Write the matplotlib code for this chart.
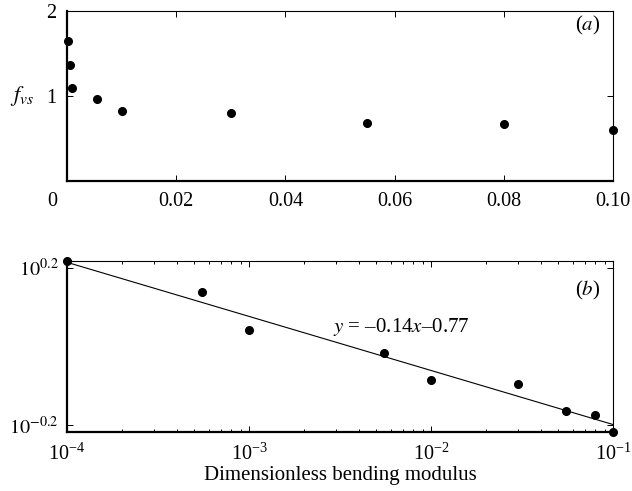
import numpy as np
import matplotlib
matplotlib.use("Agg")
import matplotlib.pyplot as plt
from matplotlib.ticker import NullLocator, LogLocator, FixedLocator, FixedFormatter
from matplotlib.transforms import offset_copy

plt.rcParams['font.family'] = ['Liberation Serif', 'DejaVu Serif']
plt.rcParams['mathtext.fontset'] = 'stix'
plt.rcParams['font.size'] = 14

# bending modulus and vortex shedding frequency
modulus = [0.0001, 0.00055, 0.001, 0.0055, 0.01, 0.03, 0.055, 0.08, 0.1]
f_vs = [1.645, 1.372, 1.098, 0.962, 0.824, 0.801, 0.686, 0.670, 0.606]

xticks_a = [0, 0.02, 0.04, 0.06, 0.08, 0.10]
xticklabels_a = ["0", "0.02", "0.04", "0.06", "0.08", "0.10"]
yticks_b = [10 ** 0.2, 10 ** -0.2]
yticklabels_b = [r"$10^{0.2}$", r"$10^{-0.2}$"]

fig = plt.figure(figsize=(6.32, 4.91), dpi=100)
ax1 = fig.add_axes([0.106, 0.631, 0.864, 0.346])
ax2 = fig.add_axes([0.106, 0.120, 0.864, 0.348])


def style(ax, ypad):
    for s in ["left", "bottom"]:
        ax.spines[s].set_linewidth(1.6)
    for s in ["top", "right"]:
        ax.spines[s].set_linewidth(0.8)
    ax.tick_params(which="both", direction="in", top=True, right=True,
                   width=0.7, labelsize=14.5)
    ax.tick_params(which="major", length=4)
    ax.tick_params(axis="x", which="major", pad=8)
    ax.tick_params(axis="y", which="major", pad=ypad)
    ax.tick_params(which="minor", length=2.5)


# (a) linear axes
ax1.plot(modulus, f_vs, "o", color="black", ms=5.5, clip_on=False)
ax1.set_xlim(0, 0.1)
ax1.set_ylim(0, 2)
ax1.set_xticks(xticks_a)
ax1.set_xticklabels(xticklabels_a)
style(ax1, 8)
lab0 = ax1.get_xticklabels()[0]
lab0.set_horizontalalignment("right")
lab0.set_transform(offset_copy(lab0.get_transform(), fig=fig, x=-10, y=0, units="dots"))
ax1.set_yticks([1, 2])
ax1.set_yticklabels(["1", "2"])
ax1.set_ylabel(r"$f_{vs}$", rotation=0, fontsize=16, va="center", ha="center")
ax1.yaxis.set_label_coords(-0.082, 0.5)
ax1.text(0.976, 0.918, r"($a$)", transform=ax1.transAxes, ha="right",
         va="center", fontsize=15)

# (b) log-log with power-law fit
z = np.polyfit(np.log(modulus), np.log(f_vs), 1)
xfit = np.array([min(modulus), max(modulus)])
yfit = np.exp(np.polyval(z, np.log(xfit)))
ax2.plot(xfit, yfit, "-", color="black", lw=0.8)
ax2.plot(modulus, f_vs, "o", color="black", ms=5.5, clip_on=False, zorder=5)
ax2.set_xscale("log")
ax2.set_yscale("log")
ax2.set_xlim(1e-4, 1e-1)
ax2.set_ylim(min(f_vs), max(f_vs))
ax2.xaxis.set_major_locator(LogLocator(base=10, numticks=10))
ax2.xaxis.set_minor_locator(LogLocator(base=10, subs=np.arange(2, 10), numticks=20))
ax2.yaxis.set_major_locator(FixedLocator(yticks_b))
ax2.yaxis.set_major_formatter(FixedFormatter(yticklabels_b))
ax2.yaxis.set_minor_locator(NullLocator())
style(ax2, 6)
ax2.set_xlabel("Dimensionless bending modulus", fontsize=15, labelpad=1)
ax2.text(2.9e-3, 1.117, r"$y$ = –0.14$x$–0.77", ha="left", va="center",
         fontsize=15)
ax2.text(0.976, 0.83, r"($b$)", transform=ax2.transAxes, ha="right",
         va="center", fontsize=15)

fig.savefig("out.png", dpi=100)
